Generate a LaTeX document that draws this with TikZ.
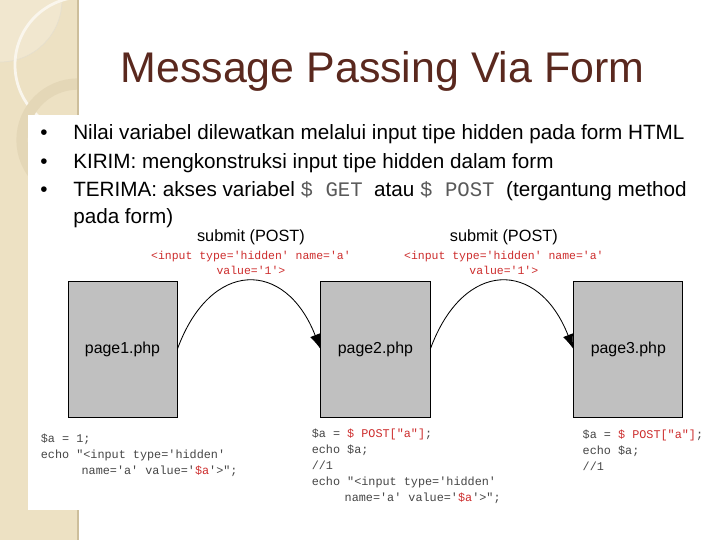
\documentclass[tikz,border=0pt]{standalone}
\usepackage{fontspec}
\setmainfont{Liberation Sans}
\newfontfamily\codefont{Liberation Mono}
\usetikzlibrary{positioning,calc,arrows.meta}
\definecolor{titlebrown}{RGB}{90,40,30}
\definecolor{strip}{RGB}{237,225,195}
\definecolor{stripedge}{RGB}{205,190,155}
\definecolor{stripring}{RGB}{228,215,183}
\definecolor{codegray}{RGB}{70,70,70}
\definecolor{codered}{RGB}{205,45,45}
\definecolor{boxgray}{RGB}{192,192,192}
\tikzset{
    phpbox/.style = {draw=black, line width=0.6pt, fill=boxgray,
        minimum width=2.725cm, minimum height=3.4cm, inner sep=0pt,
        font=\fontsize{11.3}{13}\selectfont},
    msg/.style = {font=\codefont\fontsize{8.15}{10.6}\selectfont,
        text=codered, align=center, inner sep=0pt},
    codetxt/.style = {font=\codefont\fontsize{8.4}{11.3}\selectfont,
        text=codegray, align=left, inner sep=0pt, anchor=base west},
    bulletline/.style = {font=\fontsize{14.7}{19.3}\selectfont,
        anchor=base west, inner sep=0pt, align=left},
    post/.style = {-{Latex[length=10.5pt,width=7.5pt]}, line width=0.6pt},
}

\begin{document}
\begin{tikzpicture}[x=0.025cm, y=-0.025cm]
\useasboundingbox (0,0) rectangle (720,540);
\fill[white] (0,0) rectangle (720,540);
\fill[strip] (0,0) rectangle (78,540);
\begin{scope}
\clip (0,0) rectangle (78,540);
\fill[strip!80!white] (0,0) circle[radius=62];
\draw[stripedge!50, line width=0.5pt] (0,0) circle[radius=62];
\draw[white!70!strip, line width=2pt] (83,65) circle[radius=68];
\draw[stripring, line width=8pt] (78,140) circle[radius=56];
\end{scope}
\draw[stripedge, line width=1pt] (78,0) -- (78,540);
\fill[white] (28,115) rectangle (720,510);

\node[font=\fontsize{30.5}{36}\selectfont, text=titlebrown, anchor=base] (title) at (382.5,82) {Message Passing Via Form};

\node[bulletline] (d1) at (40,139) {•};
\node[bulletline] (b1) at (73,139) {Nilai variabel dilewatkan melalui input tipe hidden pada form HTML};
\node[bulletline] (d2) at (40,168) {•};
\node[bulletline] (b2) at (73,168) {KIRIM: mengkonstruksi input tipe hidden dalam form};
\node[bulletline] (d3) at (40,196) {•};
\node[bulletline] (b3) at (73,223.2) {TERIMA: akses variabel {\codefont\color{black!65}\$ GET}\ \ atau {\codefont\color{black!65}\$ POST}\ \ (tergantung method\\pada form)};

\node[phpbox] (p1) at (122.5,349) {page1.php};
\node[phpbox, right=3.575cm of p1] (p2) {page2.php};
\node[phpbox, right=3.575cm of p2] (p3) {page3.php};

\draw[post] (p1.east) .. controls +(33,-90) and +(-35,-90) .. (p2.west);
\draw[post] (p2.east) .. controls +(33,-90) and +(-35,-90) .. (p3.west);

\node[font=\fontsize{11.6}{14}\selectfont] (s1) at ($(p1.east)!0.5!(p2.west)+(2,-112)$) {submit (POST)};
\node[msg] (m1) at ($(s1)+(0,25.5)$) {<input type='hidden' name='a'\\value='1'>};
\node[font=\fontsize{11.6}{14}\selectfont] (s2) at ($(p2.east)!0.5!(p3.west)+(2,-112)$) {submit (POST)};
\node[msg] (m2) at ($(s2)+(0,25.5)$) {<input type='hidden' name='a'\\value='1'>};

\node[codetxt] (c1) at ($(p1.south west)+(-27,56.9)$) {\$a = 1;\\echo "<input type='hidden'\\\hspace*{29pt}name='a' value='{\color{codered}\$a}'>";};
\node[codetxt] (c2) at ($(p2.south west)+(-9,83.8)$) {\$a = {\color{codered}\$ POST["a"]};\\echo \$a;\\//1\\echo "<input type='hidden'\\\hspace*{23.4pt}name='a' value='{\color{codered}\$a}'>";};
\node[codetxt] (c3) at ($(p3.south west)+(9,52.9)$) {\$a = {\color{codered}\$ POST["a"]};\\echo \$a;\\//1};
\end{tikzpicture}
\end{document}
